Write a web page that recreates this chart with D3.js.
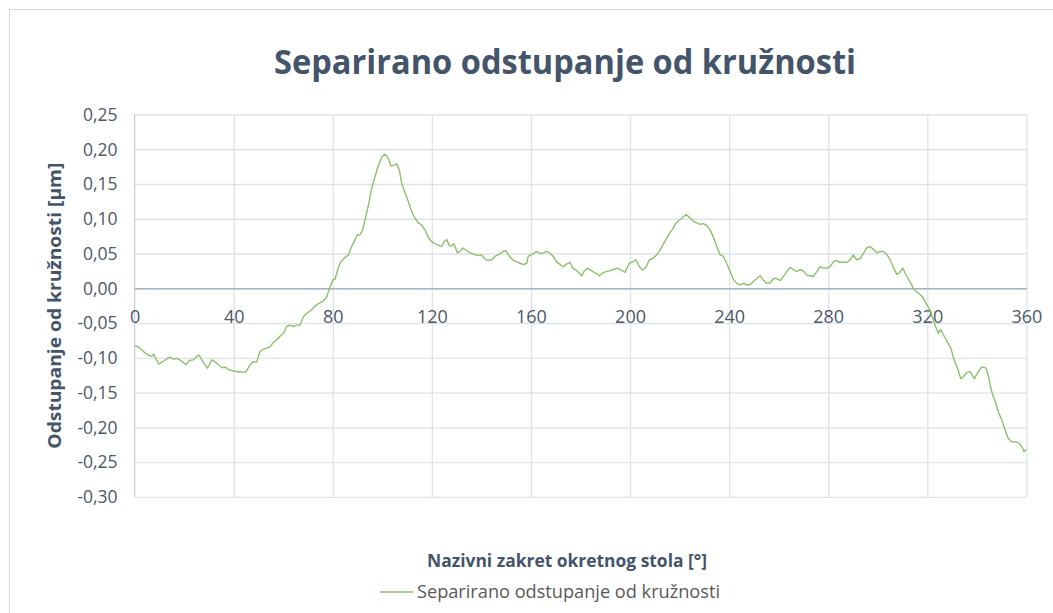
<!DOCTYPE html>
<html>
<head>
<meta charset="utf-8">
<script src="https://cdn.jsdelivr.net/npm/d3@7"></script>
<style>
  html, body { margin: 0; padding: 0; background: #fff; }
  svg { display: block; }
  text { font-family: "Open Sans", "Noto Sans", sans-serif; }
</style>
</head>
<body>
<svg id="chart" width="1053" height="613"></svg>
<script>
// Nominal rotary-table angle [°]
const angles = [
  0.2, 2.2, 4.2, 5.5, 6.9, 7.8, 8.6, 9.8, 11.6, 12.9, 14.3, 15.6, 17.0, 18.3, 19.4, 20.8,
  22.1, 23.7, 25.1, 26.0, 27.1, 28.0, 29.4, 31.1, 32.5, 33.8, 35.2, 36.9, 37.8, 39.9, 41.9,
  43.9, 45.0, 46.6, 47.7, 49.3, 50.6, 51.7, 53.3, 54.7, 56.0, 57.4, 58.7, 60.0, 61.4, 62.7,
  64.1, 65.4, 66.8, 68.1, 69.5, 71.5, 72.8, 74.2, 75.9, 77.5, 78.9, 80.0, 80.9, 82.2, 83.2,
  84.5, 86.3, 87.6, 89.0, 89.9, 91.0, 92.1, 93.0, 94.4, 95.7, 97.1, 98.4, 99.8, 101.1, 102.4,
  103.5, 104.7, 105.8, 106.9, 107.8, 109.2, 110.5, 111.9, 113.2, 114.5, 115.9, 117.2, 118.6,
  119.9, 121.3, 122.6, 124.0, 124.9, 126.0, 127.1, 128.0, 128.9, 130.3, 131.4, 132.5, 134.1,
  135.4, 137.0, 138.8, 140.1, 141.5, 142.8, 144.2, 145.5, 147.2, 148.9, 149.9, 151.3, 152.9,
  154.3, 155.6, 156.9, 158.3, 158.9, 161.0, 162.3, 163.7, 165.0, 166.4, 167.7, 169.0, 170.4,
  171.8, 173.1, 174.4, 175.8, 176.9, 178.2, 179.5, 180.5, 181.4, 182.8, 184.1, 185.5, 186.6,
  187.6, 189.0, 190.3, 191.6, 193.3, 194.9, 196.3, 198.0, 199.7, 201.1, 202.4, 203.8, 205.1,
  206.5, 207.8, 209.2, 210.5, 211.8, 213.2, 214.5, 215.9, 217.2, 218.6, 220.2, 221.6, 222.6,
  224.0, 225.3, 226.9, 228.3, 229.6, 231.0, 232.3, 233.6, 235.0, 236.4, 237.7, 239.0, 240.4,
  241.7, 243.1, 244.4, 245.8, 247.1, 248.5, 249.8, 251.2, 252.5, 253.8, 255.2, 256.6, 257.9,
  259.2, 260.6, 261.9, 263.3, 264.6, 265.9, 267.3, 268.6, 270.0, 271.3, 272.7, 274.0, 275.4,
  276.7, 278.0, 279.4, 280.7, 282.1, 283.4, 284.8, 286.1, 287.5, 288.8, 290.1, 291.5, 292.9,
  294.2, 295.5, 296.9, 298.3, 299.6, 301.0, 302.3, 303.6, 305.0, 306.3, 307.7, 308.7, 310.1,
  311.0, 312.4, 313.7, 314.4, 315.7, 317.4, 318.4, 319.8, 321.1, 322.2, 323.1, 324.5, 325.4,
  326.8, 328.1, 329.5, 330.8, 332.2, 333.5, 334.6, 336.0, 337.3, 339.0, 340.2, 342.0, 343.7,
  344.7, 346.0, 347.4, 348.7, 350.1, 351.4, 352.7, 354.1, 355.4, 356.8, 358.2, 359.1, 359.9
];

// Separated roundness deviation [µm]
const deviation = [
  -0.082, -0.086, -0.093, -0.096, -0.098, -0.095, -0.102, -0.109, -0.105, -0.102, -0.099, -0.102, -0.101, -0.103, -0.106, -0.110,
  -0.104, -0.103, -0.098, -0.096, -0.103, -0.108, -0.115, -0.103, -0.106, -0.110, -0.114, -0.114, -0.117, -0.119, -0.120,
  -0.121, -0.120, -0.110, -0.106, -0.106, -0.091, -0.088, -0.086, -0.084, -0.078, -0.074, -0.069, -0.065, -0.055, -0.053,
  -0.055, -0.053, -0.053, -0.041, -0.036, -0.031, -0.026, -0.022, -0.019, -0.013, 0.002, 0.012, 0.013, 0.029, 0.038,
  0.043, 0.048, 0.060, 0.070, 0.077, 0.077, 0.084, 0.098, 0.120, 0.144, 0.161, 0.177, 0.189, 0.193, 0.187,
  0.176, 0.177, 0.179, 0.170, 0.151, 0.137, 0.125, 0.110, 0.101, 0.094, 0.091, 0.084, 0.073,
  0.067, 0.064, 0.062, 0.060, 0.067, 0.070, 0.061, 0.061, 0.064, 0.051, 0.053, 0.058, 0.054,
  0.051, 0.049, 0.047, 0.048, 0.042, 0.040, 0.041, 0.046, 0.049, 0.053, 0.054, 0.046, 0.040,
  0.038, 0.036, 0.034, 0.036, 0.046, 0.050, 0.053, 0.050, 0.051, 0.053, 0.050, 0.046, 0.038,
  0.034, 0.031, 0.035, 0.037, 0.029, 0.026, 0.022, 0.018, 0.024, 0.029, 0.026, 0.023, 0.021,
  0.018, 0.022, 0.024, 0.025, 0.027, 0.029, 0.026, 0.023, 0.036, 0.038, 0.041, 0.031, 0.026,
  0.031, 0.041, 0.043, 0.047, 0.053, 0.062, 0.070, 0.079, 0.085, 0.094, 0.099, 0.103, 0.106,
  0.102, 0.097, 0.094, 0.092, 0.093, 0.090, 0.084, 0.074, 0.060, 0.048, 0.046, 0.036, 0.024,
  0.013, 0.007, 0.005, 0.007, 0.005, 0.005, 0.010, 0.014, 0.018, 0.012, 0.007, 0.008, 0.014,
  0.014, 0.011, 0.017, 0.024, 0.030, 0.027, 0.024, 0.027, 0.025, 0.019, 0.018, 0.017, 0.024,
  0.031, 0.029, 0.029, 0.031, 0.038, 0.040, 0.037, 0.038, 0.037, 0.041, 0.048, 0.041, 0.043,
  0.050, 0.058, 0.060, 0.056, 0.051, 0.053, 0.053, 0.049, 0.041, 0.030, 0.020, 0.022, 0.029,
  0.022, 0.013, 0.005, -0.001, -0.005, -0.010, -0.014, -0.024, -0.031, -0.043, -0.053, -0.065, -0.059,
  -0.069, -0.077, -0.086, -0.103, -0.115, -0.130, -0.127, -0.121, -0.120, -0.130, -0.122, -0.113, -0.115,
  -0.127, -0.149, -0.163, -0.178, -0.190, -0.204, -0.216, -0.221, -0.221, -0.222, -0.228, -0.235, -0.232
];

const xTicks = [0, 40, 80, 120, 160, 200, 240, 280, 320, 360];
const yTicks = [0.25, 0.20, 0.15, 0.10, 0.05, 0.00, -0.05, -0.10, -0.15, -0.20, -0.25, -0.30];

const chartTitle = "Separirano odstupanje od kružnosti";
const xTitle = "Nazivni zakret okretnog stola [°]";
const yTitle = "Odstupanje od kružnosti [µm]";
const seriesName = "Separirano odstupanje od kružnosti";

const svg = d3.select("#chart");
const W = 1053, H = 613;
const plot = { left: 134.6, right: 1026.4, top: 114.5, bottom: 496.8 };

svg.append("rect").attr("width", W).attr("height", H).attr("fill", "#fff");
// chart-area frame
svg.append("rect")
  .attr("x", 9.5).attr("y", 9.5).attr("width", W + 20).attr("height", H + 20)
  .attr("fill", "none").attr("stroke", "#d9d9d9").attr("stroke-width", 1);

const x = d3.scaleLinear().domain([0, 360]).range([plot.left, plot.right]);
const y = d3.scaleLinear().domain([-0.30, 0.25]).range([plot.bottom, plot.top]);

// decimal comma and a plain hyphen as the minus sign
const fmt = v => d3.format(".2f")(v).replace("\u2212", "-").replace(".", ",");

// horizontal gridlines
const yGrid = svg.append("g").attr("transform", `translate(${plot.left},0)`)
  .call(d3.axisLeft(y).tickValues(yTicks).tickSize(-(plot.right - plot.left)).tickFormat(""));
yGrid.select(".domain").remove();
yGrid.selectAll("line").attr("stroke", "#dfe2e8").attr("stroke-width", 1.3);

// vertical gridlines
const xGrid = svg.append("g").attr("transform", `translate(0,${plot.bottom})`)
  .call(d3.axisBottom(x).tickValues(xTicks.slice(1)).tickSize(-(plot.bottom - plot.top)).tickFormat(""));
xGrid.select(".domain").remove();
xGrid.selectAll("line").attr("stroke", "#dfe2e8").attr("stroke-width", 1.3);

// vertical axis line at 0°
svg.append("line")
  .attr("x1", x(0)).attr("x2", x(0)).attr("y1", plot.top).attr("y2", plot.bottom)
  .attr("stroke", "#c8cfd9").attr("stroke-width", 1.3);

// y tick labels
const yAxis = svg.append("g").attr("transform", `translate(${plot.left - 17},0)`)
  .call(d3.axisLeft(y).tickValues(yTicks).tickSize(0).tickFormat(fmt));
yAxis.select(".domain").remove();
yAxis.selectAll("text")
  .attr("fill", "#4d5869").attr("font-size", 17.5)
  .style("font-family", "'Open Sans', sans-serif")
  .attr("x", 0).attr("dy", "0.34em");

// horizontal axis through zero, labels just below it
const xAxis = svg.append("g").attr("transform", `translate(0,${y(0)})`)
  .call(d3.axisBottom(x).tickValues(xTicks).tickSize(0).tickFormat(d => String(d)));
xAxis.select(".domain").attr("stroke", "#a7b2c2").attr("stroke-width", 1.4);
xAxis.selectAll("text")
  .attr("fill", "#4d5869").attr("font-size", 18)
  .style("font-family", "'Open Sans', sans-serif")
  .attr("y", 0).attr("dy", "1.95em");

// series line
const line = d3.line().x((d, i) => x(angles[i])).y(d => y(d));
svg.append("path")
  .datum(deviation)
  .attr("d", line)
  .attr("fill", "none")
  .attr("stroke", "#8cc06b")
  .attr("stroke-width", 1.4)
  .attr("stroke-linejoin", "round");

// titles
svg.append("text")
  .attr("x", 565).attr("y", 74)
  .attr("text-anchor", "middle")
  .attr("font-size", 34).attr("font-weight", 700)
  .attr("fill", "#44546a")
  .attr("textLength", 582).attr("lengthAdjust", "spacingAndGlyphs")
  .text(chartTitle);

svg.append("text")
  .attr("transform", `translate(61,${(plot.top + plot.bottom) / 2}) rotate(-90)`)
  .attr("text-anchor", "middle")
  .attr("font-size", 17.5).attr("font-weight", 700)
  .attr("fill", "#44546a")
  .attr("textLength", 286).attr("lengthAdjust", "spacingAndGlyphs")
  .text(yTitle);

svg.append("text")
  .attr("x", 567).attr("y", 567)
  .attr("text-anchor", "middle")
  .attr("font-size", 17.5).attr("font-weight", 700)
  .attr("fill", "#44546a")
  .attr("textLength", 280).attr("lengthAdjust", "spacingAndGlyphs")
  .text(xTitle);

// legend
const legend = svg.append("g");
legend.append("line")
  .attr("x1", 380).attr("x2", 413).attr("y1", 592).attr("y2", 592)
  .attr("stroke", "#8cc06b").attr("stroke-width", 1.4);
legend.append("text")
  .attr("x", 417).attr("y", 598)
  .attr("font-size", 17.5)
  .attr("fill", "#595959")
  .attr("textLength", 303).attr("lengthAdjust", "spacingAndGlyphs")
  .text(seriesName);
</script>
</body>
</html>
